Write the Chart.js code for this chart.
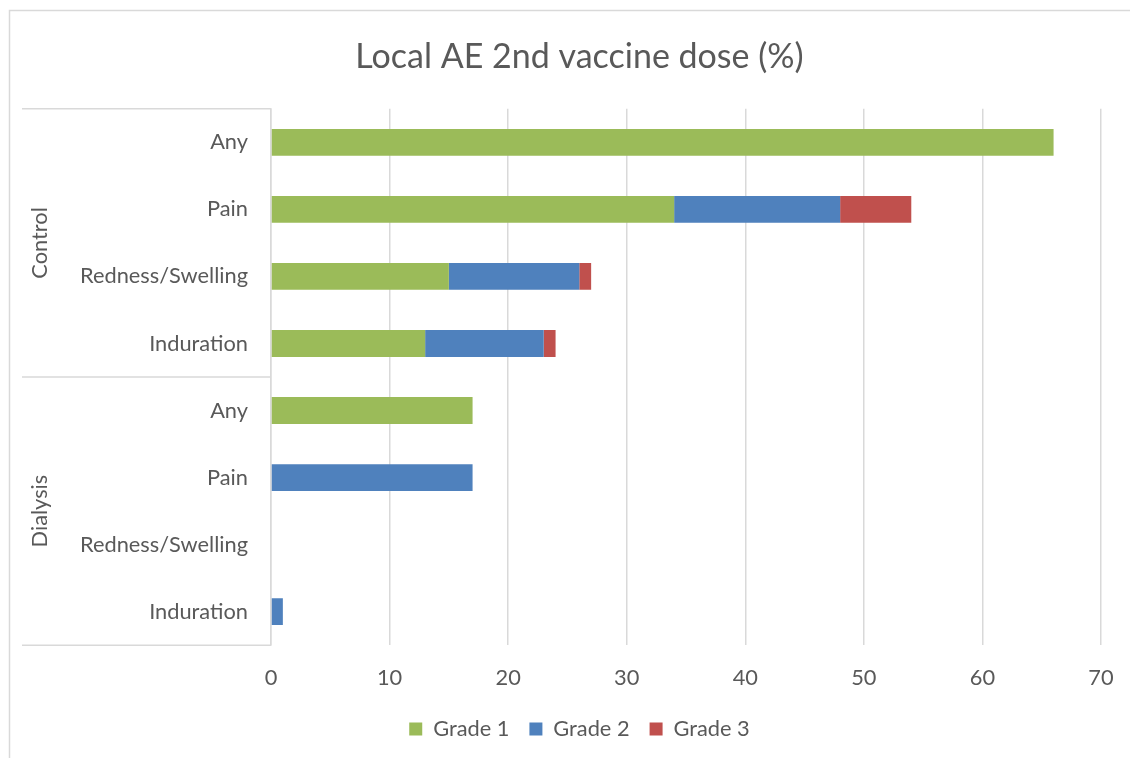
<!DOCTYPE html>
<html>
<head>
<meta charset="utf-8">
<script src="https://cdn.jsdelivr.net/npm/chart.js@4.4.1/dist/chart.umd.min.js"></script>
<style>
  html, body { margin: 0; padding: 0; background: #fff; }
  #wrap { width: 1130px; height: 758px; position: relative; }
</style>
</head>
<body>
<div id="wrap"><canvas id="chart" width="1130" height="758"></canvas></div>
<script>
const titleText = 'Local AE 2nd vaccine dose (%)';
const groups = ['Control', 'Dialysis'];
const items = ['Any', 'Pain', 'Redness/Swelling', 'Induration'];
const categories = ['Any', 'Pain', 'Redness/Swelling', 'Induration', 'Any', 'Pain', 'Redness/Swelling', 'Induration'];
const grade1 = [66, 34, 15, 13, 17, 0, 0, 0];
const grade2 = [0, 14, 11, 10, 0, 17, 0, 1];
const grade3 = [0, 6, 1, 1, 0, 0, 0, 0];
const seriesNames = ['Grade 1', 'Grade 2', 'Grade 3'];
const seriesColors = ['#9BBB59', '#4F81BD', '#C0504D'];
const xMin = 0, xMax = 70, xStep = 10;

const FONT = 'Lato, "Open Sans", sans-serif';
const TEXT = '#595959';
const LINE = '#d9d9d9';
const FS = 21.8;
const PAD_LEFT = 58;

// frame + group labels on the category axis
const groupAxis = {
  id: 'groupAxis',
  beforeDraw(chart) {
    const ctx = chart.ctx;
    ctx.save();
    ctx.strokeStyle = LINE;
    ctx.lineWidth = 1.5;
    ctx.beginPath();
    ctx.moveTo(9.5, 758);
    ctx.lineTo(9.5, 10.5);
    ctx.lineTo(1130, 10.5);
    ctx.stroke();
    ctx.restore();
  },
  afterDraw(chart) {
    const ctx = chart.ctx;
    const y = chart.scales.y;
    const left = chart.chartArea.left;
    const band = y.getPixelForValue(1) - y.getPixelForValue(0);
    ctx.save();
    ctx.strokeStyle = LINE;
    ctx.lineWidth = 1.5;
    let idx = 0;
    groups.forEach((g, gi) => {
      const top = y.getPixelForValue(idx) - band / 2;
      const bottom = y.getPixelForValue(idx + items.length - 1) + band / 2;
      ctx.beginPath();
      if (gi === 0) {
        ctx.moveTo(22, top);
        ctx.lineTo(left, top);
      }
      ctx.moveTo(22, bottom);
      ctx.lineTo(left, bottom);
      ctx.stroke();
      ctx.save();
      ctx.translate(40, (top + bottom) / 2);
      ctx.rotate(-Math.PI / 2);
      ctx.fillStyle = TEXT;
      ctx.font = FS + 'px ' + FONT;
      ctx.textAlign = 'center';
      ctx.textBaseline = 'middle';
      ctx.fillText(g, 0, 0);
      ctx.restore();
      idx += items.length;
    });
    ctx.restore();
  }
};

new Chart(document.getElementById('chart'), {
  type: 'bar',
  data: {
    labels: categories,
    datasets: [grade1, grade2, grade3].map((d, i) => ({
      label: seriesNames[i],
      data: d,
      backgroundColor: seriesColors[i],
      borderWidth: 0,
      barPercentage: 0.4,
      categoryPercentage: 1
    }))
  },
  options: {
    indexAxis: 'y',
    responsive: false,
    animation: false,
    layout: { padding: { left: PAD_LEFT, right: 29, top: 0, bottom: 8 } },
    scales: {
      x: {
        stacked: true,
        min: xMin,
        max: xMax,
        ticks: { stepSize: xStep, color: TEXT, font: { family: FONT, size: FS }, padding: 20 },
        grid: { color: LINE, lineWidth: 1.5, drawTicks: false },
        border: { display: false },
        afterFit(s) { s.height = 53; s.paddingLeft = 0; s.paddingRight = 0; }
      },
      y: {
        stacked: true,
        ticks: { color: TEXT, font: { family: FONT, size: FS }, padding: 23, autoSkip: false },
        grid: { display: false, drawTicks: false },
        border: { color: LINE, width: 1.5 },
        afterFit(s) { s.width = 271 - PAD_LEFT; }
      }
    },
    plugins: {
      title: {
        display: true,
        text: titleText,
        color: TEXT,
        font: { family: FONT, size: 34, weight: 'normal' },
        padding: { top: 37, bottom: 31 }
      },
      legend: {
        position: 'bottom',
        labels: { color: TEXT, font: { family: FONT, size: FS }, boxWidth: 13, boxHeight: 13, padding: 20 }
      },
      tooltip: { enabled: false }
    }
  },
  plugins: [groupAxis]
});
</script>
</body>
</html>
